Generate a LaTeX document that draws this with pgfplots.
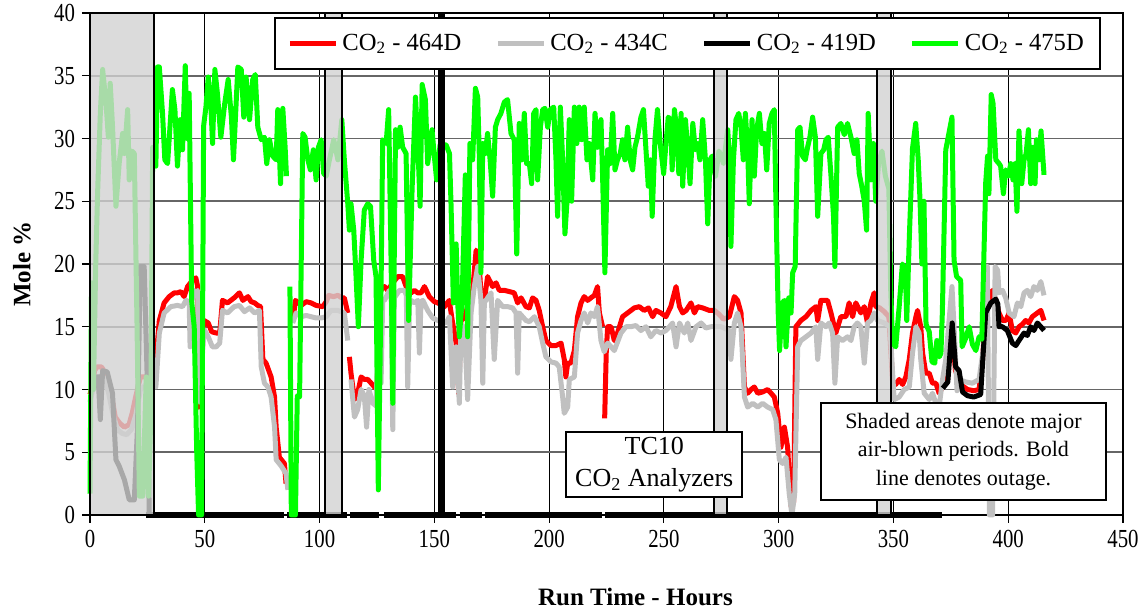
\documentclass[border=0pt]{standalone}
\usepackage{fontspec}
\setmainfont{Liberation Serif}
\newfontfamily\condfont[FakeStretch=0.8]{Liberation Serif}
\usepackage{pgfplots}
\pgfplotsset{compat=1.18}
\definecolor{cgreen}{RGB}{0,255,0}
\definecolor{cgray}{RGB}{192,192,192}
\definecolor{cred}{RGB}{255,0,0}
\begin{document}
\begin{tikzpicture}
\useasboundingbox (-45pt,-49pt) rectangle (528.5pt,257.5pt);
\begin{axis}[
  width=516.5pt, height=251pt, scale only axis,
  xmin=0, xmax=450, ymin=0, ymax=40,
  xtick={0,50,...,450}, ytick={0,5,...,40},
  xmajorgrids, ymajorgrids,
  x grid style={black, line width=0.5pt},
  y grid style={black!60, line width=0.9pt},
  tick align=outside, xtick pos=bottom, ytick pos=left,
  major tick length=4pt,
  tick style={black, line width=0.6pt},
  axis line style={line width=1pt},
  tick label style={font=\condfont\fontsize{13}{13}\selectfont},
  /pgf/number format/assume math mode=true,
  xlabel={\textbf{Run Time - Hours}},
  ylabel={\textbf{Mole \%}},
  xlabel style={font=\fontsize{12.5}{14}\selectfont, at={(axis description cs:0.528,-0.163)}, anchor=center},
  ylabel style={font=\fontsize{12.5}{14}\selectfont, at={(axis description cs:-0.066,0.5)}, anchor=center, rotate=0},
  unbounded coords=jump,
  clip=false,
  legend columns=4,
  legend image code/.code={\draw[#1] (0pt,0pt) -- (23pt,0pt);},
  legend style={at={(0.5785,0.992)}, anchor=north, draw=black, line width=1pt,
    font=\fontsize{12.3}{14}\selectfont, inner xsep=6pt, inner ysep=6pt,
    /tikz/every even column/.append style={column sep=15pt}},
  every axis plot/.append style={line join=round},
]
% CO2 - 464D
\addplot[cred, line width=2.5pt] coordinates {
(0,9.6)(1,10.3)(2,11.5)(3,11.8)(5,11.8)(7,11.2)(9,10)(11,7.8)(13,7.3)(15,7)(17,7.2)(18.5,8.2)(20,9.5)(22,11)(24.5,11)(26,10.5)(28,10.3)
(29,13)(30.2,15.5)(32.3,16.9)(34.5,17.4)(36.7,17.7)(38.1,17.7)(39.6,17.8)(41,17.4)(42.5,18.2)(44.7,18.7)(46.1,18.9)(46.9,18.2)(47.4,8.6)(49.7,15.5)(51.5,15.3)(53,14.6)(55,14.5)(56.5,14.5)(57.7,17.1)(59.9,16.9)(62.8,17.3)(65.1,17.7)(66.6,17.1)(68.8,17.4)(70.2,17)(71.7,16.9)(73.1,16.7)(74.3,16.6)(75.3,12.4)(76.7,12.1)(78.9,11)(80.4,9.4)(81.1,7)(82.5,4.6)(84.7,4.1)(85.4,2.5)
(86,nan)
(88.4,15.5)(89.5,17.1)(92,16.7)(94.2,17)(96.3,16.9)(98.5,16.7)(101.4,16.6)(102.9,17)(104,17.5)(106,17.4)(108,17.5)(109.7,17.3)(110.8,17.3)(112.3,16.1)
(112.6,nan)
(113,12.6)(113.7,11.3)(115.2,9.2)(116.6,9.7)(118.1,11)(119.5,10.8)(121,10.8)(122.5,10.5)(123.9,10.2)(125,10)(126.5,17.9)(128.3,18.2)(129.7,17.9)(131.9,18.5)(134.1,19)(136.2,19)(137.7,18.2)(139.9,17.7)(141.3,17.9)(142.8,17.7)(144.2,17.7)(145.7,18.2)(147.8,17.4)(150,17)(151.5,16.9)(154.4,16.6)(156.5,17.1)(157.8,15.5)(159.5,13.7)(160.6,9.7)(161.6,15.5)(163.1,15.7)(164.5,16.6)(166.7,17.9)(168.2,21.1)(168.9,20.8)(169.6,19.8)(170.3,17.7)(171.8,17.1)(173.2,19)(175.4,18.2)(176.9,18.5)(178.3,17.9)(180.5,17.9)(182.7,17.8)(184.8,17.7)(186.3,16.9)(187.8,17.3)(189.9,16.6)(191.4,16.5)(192.8,17.3)(194.3,17.1)(195.7,16.3)(197.2,15)(198.6,13.9)(200.8,13.5)(203,13.5)(205.2,13.7)(206.6,12.4)(207.3,11)(208.1,12.1)(209.5,12.1)(211,13.1)(212.4,15.8)(213.9,16.9)(215.3,17.4)(216.8,17.1)(218.2,17.3)(219.7,17.5)(221.1,18.2)(221.9,16.1)(223.3,15)
(223.8,nan)
(224.2,7.7)(224.9,13)(225.5,15)(227,15)(228.4,13.9)(229.8,14.5)(232,15.8)(234.2,16.1)(237.1,16.5)(239.3,16.6)(241.4,16.3)(243.3,16.5)(245.1,15.8)(246.5,16.3)(248.7,16.1)(250.9,15.8)(253,16.6)(255.3,18.2)(256.8,16.6)(258.2,16.1)(259.7,16.3)(261.8,16.9)(263.3,16.1)(264.7,16.6)(266.9,16.5)(269.8,16.3)(272,16.3)(274,16)(276,15.6)(278.5,15.8)(280.7,17.4)(282.1,17.1)(283.6,16.1)(285.1,10.2)(286.5,9.7)(288,10)(289.4,10.2)(290.9,9.7)(293,9.8)(295.2,10)(296.7,9.7)(298.1,9.4)(299.6,8.1)(301,5.4)(302.5,7)(303.9,5.4)(305.4,0.7)(306.5,1)(307.5,15)(309.7,15.5)(311.9,15.8)(314.1,16.3)(316.2,16.6)(317,15.5)(318.4,17.1)(321.3,17.1)(322.8,16.1)(324.9,14.5)(327.1,15.8)(329.3,15.8)(330.7,16.9)(332.2,15.8)(333.6,16.9)(335.8,16.1)(337.3,16.6)(338.7,15.3)(340.2,16.9)(341.6,17.7)(342.3,16.6)(344,16.5)(346,16.2)(348,15.8)(349.6,10.7)(351,10.4)(352.5,10.8)(354,10.4)(355.4,11)(356.9,12.4)(358.3,14.5)(359.8,15.8)(360.5,16.3)(361.9,15)(362.7,12.9)(364.1,11.3)(365.6,11.3)(367,10.5)(368.5,10.5)(369.9,9.7)(371.4,10.2)(373,10.5)(375.5,15)(377,11.5)(380,10.3)(382.3,10)(385,9.9)(387.3,10)(388.8,12.4)(390.2,16.1)(391.7,17.1)(393.1,17.9)(394.6,17.1)(396,16.1)(397.5,15.5)(399,15.5)(400.4,16.1)(401.8,14.7)(403.3,14.5)(404.7,15)(406.2,15.2)(407.6,15.5)(409,15.3)(410.5,15.8)(412.7,16.1)(414.2,16.3)(415.6,15.5)
};
\addlegendentry{CO\textsubscript{2} - 464D}
% CO2 - 434C
\addplot[cgray, line width=2.5pt] coordinates {
(0,9)(1,9.8)(2,10.5)(4,11)(6,11)(8,9.8)(10,8)(12,6.8)(14,6.5)(16,6.4)(18,6.8)(20,8)(22,10)(25,10.5)(28,10.2)
(28.7,10.2)(30.2,14.5)(32.3,16.1)(35.2,16.6)(38.1,16.7)(40.3,16.6)(41.8,17.1)(43.2,17)(43.6,13.4)(44.2,16.9)(45.4,17.9)(46.2,17.6)(46.9,17.9)(47.6,9)(49.7,14.8)(51.5,14.2)(53.3,13.4)(55,13.4)(56.5,13.7)(57.7,16.3)(59.9,16.1)(62.8,16.6)(65.1,16.7)(67.3,16.2)(69.5,16.5)(71.7,16.1)(73.8,16.3)(74.6,11.8)(76,10.5)(77.5,10.2)(78.9,9.4)(80.4,7)(81.1,4.4)(83.3,3.9)(85.4,3.3)(86.2,2)
(87,nan)
(88.3,15.3)(89.8,16.1)(92,15.8)(94.2,15.9)(96.3,15.8)(98.5,15.7)(100.7,15.7)(102.9,15.8)(105,16.3)(108,16.3)(110.8,16.1)(112.3,13.9)
(112.8,nan)
(113.7,10.8)(115.2,7.8)(116.6,8.4)(118.1,10)(119.5,9.5)(120.5,7)(121.5,10)(123.2,8.9)(124.6,8.7)(126.1,17.1)(126.8,10.5)(127.5,17.1)(128.3,17.1)(130.4,17.9)(131.2,17.5)(131.9,6.8)(132.6,17.3)(134.8,17.9)(137,17.9)(137.8,17.5)(138.4,10.2)(139.2,17)(139.9,17.1)(141.3,16.9)(142.8,17.1)(143.5,12.9)(144.2,17)(145,17.1)(147.1,16.3)(149.3,15.7)(151.5,15.5)(155.1,15.3)(156.6,15.8)(158,10.2)(159.5,13.4)(160.9,8.9)(161.6,15)(163.1,15)(164.5,9.2)(166,16.1)(167.4,18.2)(168.9,19.8)(170.3,17.1)(171.1,10.5)(171.8,17)(172.5,17.1)(174.7,17.7)(176.1,12.4)(177.6,17.1)(179.8,16.6)(182,16.6)(184.1,16.5)(185.6,16.1)(186.3,11.3)(187,16.1)(189.9,15.5)(191.4,15.4)(193.6,15.8)(195.7,15)(197.2,13.7)(198.6,12.6)(200.8,12.2)(203,12.1)(204.4,11.8)(205.9,9.4)(206.6,8.1)(208.1,8.6)(208.8,10.8)(211,11)(212.4,14.5)(213.9,15.5)(215.3,16.1)(216.8,15.3)(218.2,16.1)(219.7,15.8)(221.1,16.6)(222.6,13.9)(224,13)(225.5,13.7)(227,13.4)(228.4,13.1)(231.3,14.5)(233.5,15)(235.6,15)(237.8,15.1)(240,14.7)(242.2,15)(244.3,14.2)(246.5,14.7)(248.7,14.5)(250.9,14.7)(252.4,15)(253.8,15.3)(255.3,13.4)(256.8,15.3)(258.9,14.5)(260.4,15.3)(261.8,13.9)(264,15)(266.2,15.3)(268.3,14.9)(270.5,15)(273,15)(275,15)(278.5,14.7)(279.2,12.4)(280.7,15.3)(282.1,16.1)(283.6,15)(285.1,9.4)(286.5,8.6)(288.7,8.9)(290.9,8.6)(293,8.9)(295.2,8.6)(297.4,8.4)(298.8,7.6)(300.3,4.4)(301.7,4.1)(303.2,4.6)(304.6,1.7)(305.8,0)(307,1.7)(308.3,13.4)(309.7,13.9)(311.9,14.2)(314.1,14.5)(316.2,15)(317,12.4)(318.4,15.3)(320.6,15)(322,15.3)(323.5,14.5)(324.5,10.5)(325.7,14.2)(327.8,13.9)(330,14.2)(331.5,13.9)(332.9,15)(334.3,15.3)(335.8,15)(337.3,12.1)(338.7,15.3)(340.2,15.5)(341.6,16.1)(343,15.5)(346,15.3)(348.5,15)(350.3,9.2)(352.5,9.4)(354.7,10)(356.9,10.2)(358.3,12.9)(359.8,15)(361.2,14.5)(361.9,12.4)(363.4,9.7)(365.6,9.2)(367,9.7)(368.5,8.9)(369.9,8.6)(371.4,10.8)(372.8,12.4)(375.5,18.2)(376.4,15)(377.7,9.9)(378.6,10.8)(381.5,10.6)(384.4,10.5)(387.3,10.8)(389.5,13.7)(390.9,19.8)(391.8,0)(393.2,0)(394.3,19.8)(395.4,19.5)(396,17.7)(397.5,17.9)(398.9,17.3)(400.4,16.1)(402.5,15.8)(404,16.9)(405.5,16.6)(406.9,17.7)(408.3,17.9)(409.8,17.4)(411.2,18.2)(412.7,17.9)(414.2,18.6)(415.6,17.5)
};
\addlegendentry{CO\textsubscript{2} - 434C}
% CO2 - 419D
\addplot[black, line width=2.5pt] coordinates {
(3.5,11.2)(4.5,7.6)(5.5,11.5)(7.5,11.4)(9.8,9.7)(11.3,4.4)(12.7,3.9)(15,2.8)(17.1,1.2)(19.3,1.2)(20.7,7)(21.9,19.8)(23.6,19.8)(25.1,9.7)(25.8,0)
(26.5,nan)
(371.5,10.1)(373.7,10.6)(375.6,15.3)(377.1,11.8)(378.6,11.5)(380.1,9.8)(382.3,9.5)(385,9.4)(388,9.6)(388.8,12)(390.2,16.1)(392.4,16.9)(394.6,17.2)(395.5,16.8)(396,15)(397.5,15)(399.6,14.7)(401.8,13.7)(403.3,13.5)(404.7,13.9)(406.9,14.5)(408.3,14.3)(409.8,15)(411.2,14.7)(412.7,15.3)(414.2,15)(415.6,14.7)
};
\addlegendentry{CO\textsubscript{2} - 419D}
% CO2 - 419D outage (values at zero)
\addplot[black, line width=3pt, forget plot, line cap=butt] coordinates {
(24.3,0)(84.5,0)(85,nan)(86,0)(111.8,0)(112.5,nan)(113.4,0)(126,0)(127,nan)(128,0)(159.5,0)(160,nan)(161,0)(170.9,0)(171.5,nan)(172,0)(223,0)(223.6,nan)(224.3,0)(371,0)
};
% CO2 - 475D
\addplot[cgreen, line width=2.5pt] coordinates {
(0,1.7)(0.7,18.5)(1.5,10)(2.5,20)(3.3,25.6)(4.5,32)(5.5,35.5)(7,32.8)(8,30.1)(8.8,34.4)(9.8,31)(11.3,24.6)(12.7,28)(14.2,30.4)(15,28.8)(16.4,32.3)(17.1,26.7)(18.3,29)(19.3,28.8)(20.5,15)(21.5,1.5)(23,1.5)(24.5,11)(25.5,1.5)(26.5,8)(27.3,29.3)(28.7,27.8)(29.4,35.7)(30.2,35.7)(31.6,32)(32.6,28.3)(33.8,28)(35.9,33.9)(37,32.3)(38.1,27.8)(39.3,31.5)(40.3,29.1)(41.5,35.8)(42.3,30)(43.2,33.6)(44.3,17)(45.4,15)(46.5,5)(47.3,0)(48.6,0)(49.5,31)(50.5,32.5)(51.5,34.9)(52.6,32.8)(53.4,29.6)(54.4,35.5)(55.5,33.6)(57,30.1)(58.7,32.8)(60.2,34.7)(61.6,31.7)(62.5,28.3)(64.4,35.7)(65.9,35.5)(67,31.7)(68,34.9)(69.5,31.5)(70.9,34.7)(72,35.1)(73.1,30.9)(74.6,29.9)(76,30.1)(77,28)(78.2,29.9)(79.6,28.6)(81.1,28.3)(81.8,32.3)(83,26.4)(84,32.4)(85,29.3)(85.6,27)
(86.3,nan)
(87.1,18.2)(87.7,0)(89.5,0)(90.3,9.5)(91.3,9.4)(92.7,30.4)(93.7,30.1)(94.9,28.3)(96,27.5)(97.3,29.1)(98.5,26.7)(99.5,29.3)(100.7,29.9)(101.8,27.2)(102.9,27)(104.3,28.3)(106.2,29.9)(108,28.3)(109.7,31.5)(110.8,28.3)(112.3,24.8)(113,22.7)(113.7,24.8)(114.9,22.7)(115.9,19)(116.9,15)(118.1,20.3)(119.5,24.3)(121,24.8)(122.2,24.6)(123.6,20.3)(124.6,19)(125.6,2)(126.8,18.2)(127.5,29.9)(129,29.6)(130.1,32.3)(131.2,19.8)(131.9,8.9)(133.1,30.7)(134.1,29.3)(135.1,30.9)(136.2,29.3)(137.7,28.8)(138.8,15.5)(140.3,25.9)(141.8,33.3)(142.8,29.6)(143.8,24.6)(144.7,34.3)(146.1,33.1)(147.1,28)(148.1,29.3)(149,30.7)(150,28.6)(151,26.7)(152.5,29.5)(154.5,29.5)(155.1,29.5)(156.6,28.8)(157.3,24.6)(158.3,16.9)(159.5,21.6)(160.2,16.9)(160.9,14.2)(162.1,17.1)(163.5,27.1)(164.5,14.2)(165.5,29.6)(166.7,28.3)(167.9,34)(168.9,33.3)(169.6,28.6)(170.3,19.3)(171.1,29.6)(172.2,28.8)(173.2,30.4)(174.3,28.3)(175.4,25.4)(176.6,30.9)(177.6,31.5)(179,32)(180.5,32.9)(181.9,33.1)(183.4,30.4)(184.8,29.9)(185.9,20.8)(187,31.2)(188.2,28.3)(189.2,32)(190.2,28)(191.4,28)(192.4,26.4)(193.3,32)(194.3,32.3)(195,26.7)(196.2,30.9)(197.2,32.3)(198.2,32.4)(199.4,30.9)(200.5,32.3)(202,32.5)(203,28.3)(203.7,23.8)(204.9,32.5)(205.9,28.3)(206.9,22.4)(207.8,25)(208.8,31.5)(209.8,25)(211,32.5)(212.1,29.6)(213.1,32.5)(214.2,29.9)(215.3,32.5)(216.5,28.3)(217.5,29.6)(219,26.7)(220,32)(221.1,29.3)(222.6,31.5)(223.3,27)(224.3,19.3)(225.5,29.1)(226.6,28)(227.7,32)(228.7,27.5)(229.8,28.3)(231,28.8)(232,29.9)(233,28.3)(234.2,30.9)(235.3,28.3)(236.4,27.5)(237.4,29.3)(238.5,30.1)(240,31.7)(241.1,32.3)(242.2,29.1)(243.2,26.2)(244.1,28.3)(244.9,23.8)(246.1,29.9)(247.2,32.3)(248.4,29.6)(249.9,27.2)(250.9,29.6)(251.9,31.7)(253,31.5)(253.6,27.5)(254.6,32.3)(255.6,30.7)(256.5,27.2)(257.5,32)(258.2,26.2)(259.4,31.5)(260.4,29.1)(261.4,26.4)(262.6,31.2)(263.7,29.1)(264.7,29.6)(265.7,28.3)(266.9,31.5)(268.1,28.3)(269.1,23.2)(270.1,28.3)(271,28.6)(272.5,27)(274,29)(276,28)(277.8,30.7)(278.5,28.8)(279.2,21.4)(280.3,28.3)(281.4,31.5)(282.6,32)(283.6,30.9)(284.6,28.3)(285.5,32)(286.5,29.1)(287.2,24.8)(288.4,31.5)(289.4,27)(290.4,30.7)(291.6,32)(292.7,29.6)(293.8,30.4)(294.8,27.5)(295.9,31.2)(297.1,32)(298.1,32.3)(298.8,25)(299.8,16.1)(300.4,13.1)(301.6,16.9)(302.5,17.1)(303.2,13.4)(304.4,17.3)(305.4,16.1)(306.1,19.3)(307.2,19.8)(308.3,30.7)(309.3,30.9)(310.4,28.6)(311.6,28.3)(312.6,29.3)(313.6,30.1)(314.8,31.7)(316,30.1)(317,23.8)(318.4,28.8)(319.6,29.1)(320.6,29.9)(321.6,30.1)(322.8,27)(323.9,23.8)(324.5,19.8)(325.7,30.9)(327.1,31.2)(328.6,30.3)(330,31.2)(331.5,30.1)(332.9,28.8)(334.1,29.9)(335.1,27.2)(336.2,26.2)(337.3,25)(338.3,22.7)(339,32)(340.2,26.7)(341.3,29.6)(342.3,25)(343.5,28)(345,29)(346.5,27)(348,26)(348.8,18)(349.6,13.7)(351,13.4)(352.5,16.6)(353.9,20)(355.2,19.5)(355.8,15.5)(356.9,22)(358.3,29.2)(359.7,31.2)(360.8,28.3)(361.6,25)(362.4,20)(363.3,25)(364.2,15.2)(365.6,14.6)(366.8,12.2)(368,12.1)(368.9,13.9)(370,12.6)(370.7,12.9)(371.3,16.1)(372.8,29.1)(375.5,31.7)(376.4,20.3)(377.5,19)(379.3,18.7)(379.9,13.4)(381.3,14)(383,15)(384.4,13.6)(385.9,13.1)(387.3,14.2)(388.5,14)(390.2,26.5)(391,28.6)(391.6,25.6)(392.6,33.5)(393.4,32.8)(394.6,28.3)(396,28)(396.7,27.8)(397.9,25.6)(398.9,27.5)(400.1,27)(401.1,28)(402.1,26.7)(403,28)(403.8,24.2)(404.7,30.6)(405.9,26.4)(406.9,28.3)(407.8,28.8)(408.8,30.7)(409.8,26.4)(410.8,29.3)(411.7,26.4)(412.3,29.9)(413.4,28.3)(414.3,30.6)(415.6,27.1)
};
\addlegendentry{CO\textsubscript{2} - 475D}
% shaded air-blown periods
\addplot[forget plot, draw=black, line width=1pt, fill=gray!35, fill opacity=0.8] coordinates {(0,40)(28,40)} \closedcycle;
\addplot[forget plot, draw=black, line width=1pt, fill=gray!35, fill opacity=0.8] coordinates {(102.5,40)(109.7,40)} \closedcycle;
\addplot[forget plot, draw=black, line width=1pt, fill=gray!35, fill opacity=0.8] coordinates {(272,40)(277.4,40)} \closedcycle;
\addplot[forget plot, draw=black, line width=1pt, fill=gray!35, fill opacity=0.8] coordinates {(343,40)(349,40)} \closedcycle;
\addplot[forget plot, draw=black, fill=black] coordinates {(151.6,40)(154.2,40)} \closedcycle;
\node[draw=black, line width=1pt, fill=white, align=center, font=\fontsize{13}{16}\selectfont, minimum width=88pt, minimum height=32.5pt, inner sep=1pt] at (axis cs:245.8,4.02) {TC10\\CO\textsubscript{2} Analyzers};
\node[draw=black, line width=1pt, fill=white, align=center, font=\fontsize{11}{14.25}\selectfont, minimum width=142.5pt, minimum height=48.5pt, inner sep=1pt] at (axis cs:380.5,5.06) {Shaded areas denote major\\air-blown periods. Bold\\line denotes outage.};
\end{axis}
\end{tikzpicture}
\end{document}
